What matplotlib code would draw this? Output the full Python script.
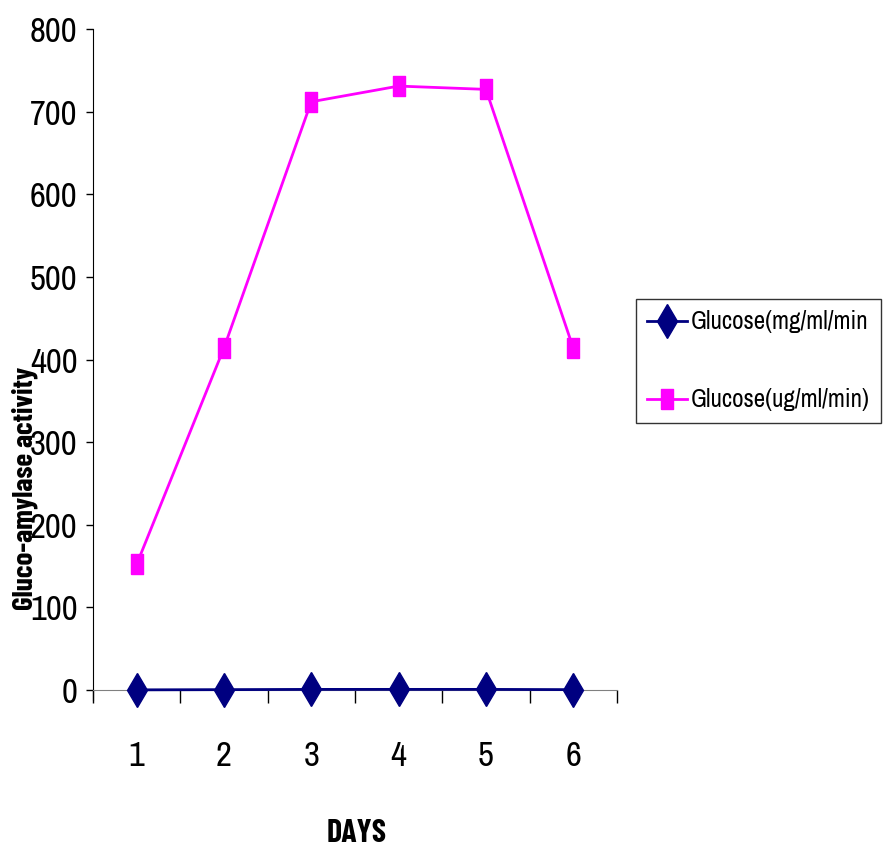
import matplotlib
matplotlib.use("Agg")
import matplotlib.pyplot as plt
from matplotlib import font_manager

days = [1, 2, 3, 4, 5, 6]
glucose_mg = [0.152, 0.414, 0.712, 0.731, 0.727, 0.414]
glucose_ug = [152, 414, 712, 731, 727, 414]
series_names = ["Glucose(mg/ml/min", "Glucose(ug/ml/min)"]
y_ticks = [0, 100, 200, 300, 400, 500, 600, 700, 800]

# pick a narrow sans if one is around, Arial Narrow look
names = {f.name for f in font_manager.fontManager.ttflist}
def pick(wanted):
    for n in wanted:
        if n in names:
            return n
    return "Liberation Sans"
fam = pick(["Liberation Sans Narrow", "Archivo Narrow", "PT Sans Narrow",
            "Roboto Condensed"])
bold_fam = pick(["Liberation Sans Narrow", "Barlow Condensed",
                 "Roboto Condensed", "Asap Condensed"])
plt.rcParams["font.family"] = [fam, "DejaVu Sans"]

fig = plt.figure(figsize=(8.88, 8.55), dpi=100)
ax = fig.add_axes([0.1047, 0.193, 0.590, 0.773])

rect = [(-0.6, -1), (0.6, -1), (0.6, 1), (-0.6, 1), (-0.6, -1)]

l1, = ax.plot(days, glucose_mg, color="#000080", lw=2, marker="d",
              markersize=17, markeredgecolor="#000080", zorder=3, clip_on=False)
l2, = ax.plot(days, glucose_ug, color="#ff00ff", lw=2, marker=rect,
              markersize=15, markeredgecolor="#ff00ff", zorder=3, clip_on=False)

ax.set_xlim(0.5, 6.5)
ax.set_ylim(0, 800)
ax.spines["top"].set_visible(False)
ax.spines["right"].set_visible(False)
ax.spines["bottom"].set_color("#808080")
ax.spines["left"].set_bounds(-12 / 826 * 800, 800)
ax.spines["left"].set_zorder(1)

ax.set_xticks(days)
ax.set_xticks([d - 0.5 for d in days] + [6.5], minor=True)
ax.tick_params(axis="x", which="major", length=0, pad=36, labelsize=25)
ax.tick_params(axis="x", which="minor", length=9, width=1, direction="out")
ax.set_yticks(y_ticks)
ax.tick_params(axis="y", length=5, width=1, pad=6, labelsize=25)

ax.set_xlabel("DAYS", fontsize=23, fontweight="bold",
              family=[bold_fam, "DejaVu Sans"])
ax.xaxis.set_label_coords(0.504, -0.195)
fig.text(0.028, 0.429, "Gluco-amylase activity", rotation=90, fontsize=21,
         fontweight="bold", family=[bold_fam, "DejaVu Sans"],
         ha="center", va="center")

leg = fig.legend([l1, l2], series_names, loc="center left",
                 bbox_to_anchor=(0.716, 0.578), fontsize=18, frameon=True,
                 fancybox=False, edgecolor="black", handlelength=1.6,
                 handletextpad=0.15, borderpad=0.45, labelspacing=2.2,
                 borderaxespad=0)
leg.get_frame().set_linewidth(1)

fig.savefig("out.png", dpi=100)
